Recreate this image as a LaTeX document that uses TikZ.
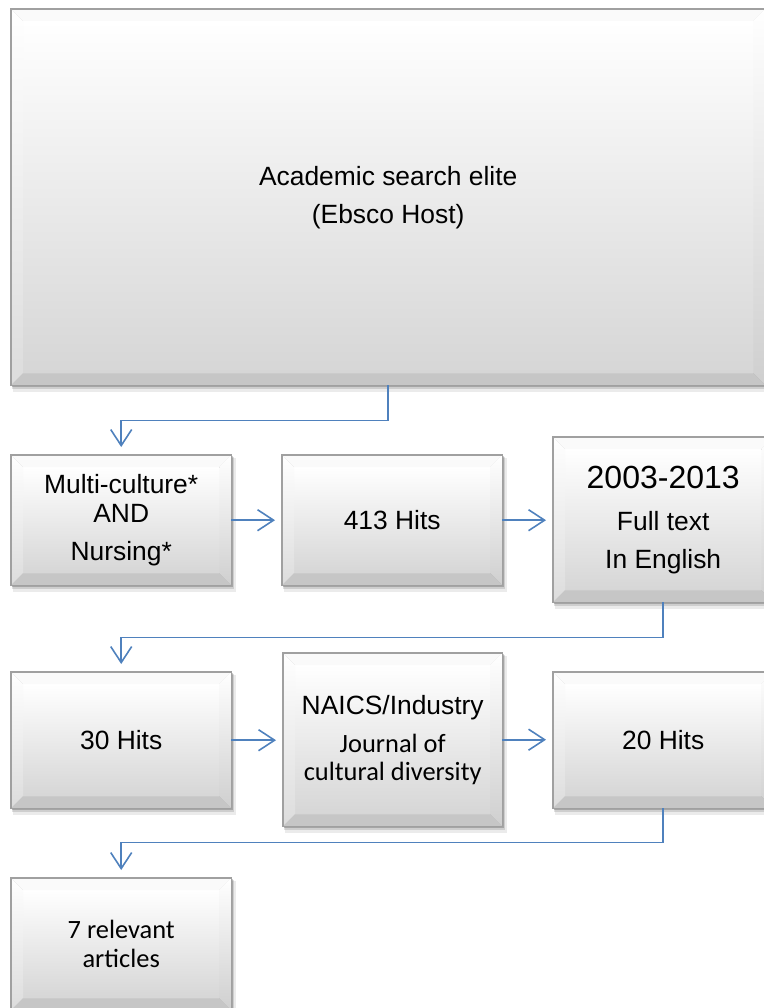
\documentclass[tikz,border=0pt]{standalone}
\usepackage{fontspec}
\setmainfont{Liberation Sans}
\newfontfamily\calibri{Carlito}
\usetikzlibrary{arrows.meta,calc,backgrounds}
\definecolor{arrowblue}{HTML}{4F81BD}
\definecolor{facebot}{HTML}{D6D6D6}
\definecolor{bevleft}{HTML}{DCDCDC}
\definecolor{bevright}{HTML}{CFCFCF}
\definecolor{bevbot}{HTML}{C6C6C6}
\definecolor{bevtop}{HTML}{FAFAFA}
\definecolor{boxline}{HTML}{A0A0A0}
\newcommand{\bevelbox}[1]{%
  \begin{scope}[on background layer]
    \path (#1.north west) coordinate (#1-o1) (#1.north east) coordinate (#1-o2)
          (#1.south east) coordinate (#1-o3) (#1.south west) coordinate (#1-o4);
    \path ($(#1.north west)+(12,12)$) coordinate (#1-i1)
          ($(#1.north east)+(-12,12)$) coordinate (#1-i2)
          ($(#1.south east)+(-12,-12)$) coordinate (#1-i3)
          ($(#1.south west)+(12,-12)$) coordinate (#1-i4);
    \fill[black,opacity=0.08] ($(#1-o1)+(2,3)$) rectangle ($(#1-o3)+(5,7)$);
    \fill[black,opacity=0.12] ($(#1-o1)+(1,2)$) rectangle ($(#1-o3)+(3,4)$);
    \fill[black,opacity=0.20] ($(#1-o1)+(1,1)$) rectangle ($(#1-o3)+(1.5,2)$);
    \shade[top color=white,bottom color=facebot] (#1-i1) rectangle (#1-i3);
    \fill[bevtop] (#1-o1) -- (#1-o2) -- (#1-i2) -- (#1-i1) -- cycle;
    \shade[top color=white,bottom color=bevleft] (#1-o1) -- (#1-i1) -- (#1-i4) -- (#1-o4) -- cycle;
    \shade[top color=white,bottom color=bevright] (#1-o2) -- (#1-o3) -- (#1-i3) -- (#1-i2) -- cycle;
    \fill[bevbot] (#1-o4) -- (#1-i4) -- (#1-i3) -- (#1-o3) -- cycle;
    \draw[boxline,line width=1.4pt] (#1-o1) rectangle (#1-o3);
  \end{scope}%
}
\begin{document}
\begin{tikzpicture}[x=1pt,y=-1pt,
  box/.style={inner sep=0pt,anchor=north west,align=center,text=black,
    font=\fontsize{26.4}{38}\selectfont},
  conn/.style={draw=arrowblue,line width=1.6pt,
    -{Straight Barb[length=16pt,width=21pt]}},
  hconn/.style={conn,shorten >=7pt},
  vconn/.style={conn,shorten >=8pt}]
\useasboundingbox (0,0) rectangle (763,1008);

\node[box,minimum width=754pt,minimum height=376pt] (big) at (11,9)
  {Academic search elite\\(Ebsco Host)};
\node[box,minimum width=220pt,minimum height=130pt] (b1) at (11,455)
  {Multi-culture*\\[-9pt]AND\\Nursing*};
\node[box,minimum width=220pt,minimum height=130pt] (b2) at (282,455)
  {413 Hits};
\node[box,minimum width=220pt,minimum height=165pt] (b3) at (553,437)
  {{\fontsize{32}{38}\selectfont 2003-2013}\\[4pt]Full text\\In English};
\node[box,minimum width=220pt,minimum height=136pt] (b4) at (11,672)
  {30 Hits};
\node[box,minimum width=219pt,minimum height=173pt] (b5) at (283,653)
  {NAICS/Industry\\{\calibri Journal of}\\[-10pt]{\calibri cultural diversity}};
\node[box,minimum width=220pt,minimum height=136pt] (b6) at (553,672)
  {20 Hits};
\node[box,minimum width=220pt,minimum height=132pt,
  font=\calibri\fontsize{26.4}{38}\selectfont] (b7) at (11,878)
  {7 relevant\\[-9pt]articles};

\foreach \n in {big,b1,b2,b3,b4,b5,b6,b7} {\bevelbox{\n}}

\draw[vconn] (big.south) -- ++(0,35) -| (b1.north);
\draw[hconn] (b1.east) -- (b1.east -| b2.west);
\draw[hconn] (b2.east) -- (b2.east -| b3.west);
\draw[vconn] (b3.south) -- ++(0,35) -| (b4.north);
\draw[hconn] (b4.east) -- (b4.east -| b5.west);
\draw[hconn] (b5.east) -- (b5.east -| b6.west);
\draw[vconn] (b6.south) -- ++(0,34) -| (b7.north);
\end{tikzpicture}
\end{document}
